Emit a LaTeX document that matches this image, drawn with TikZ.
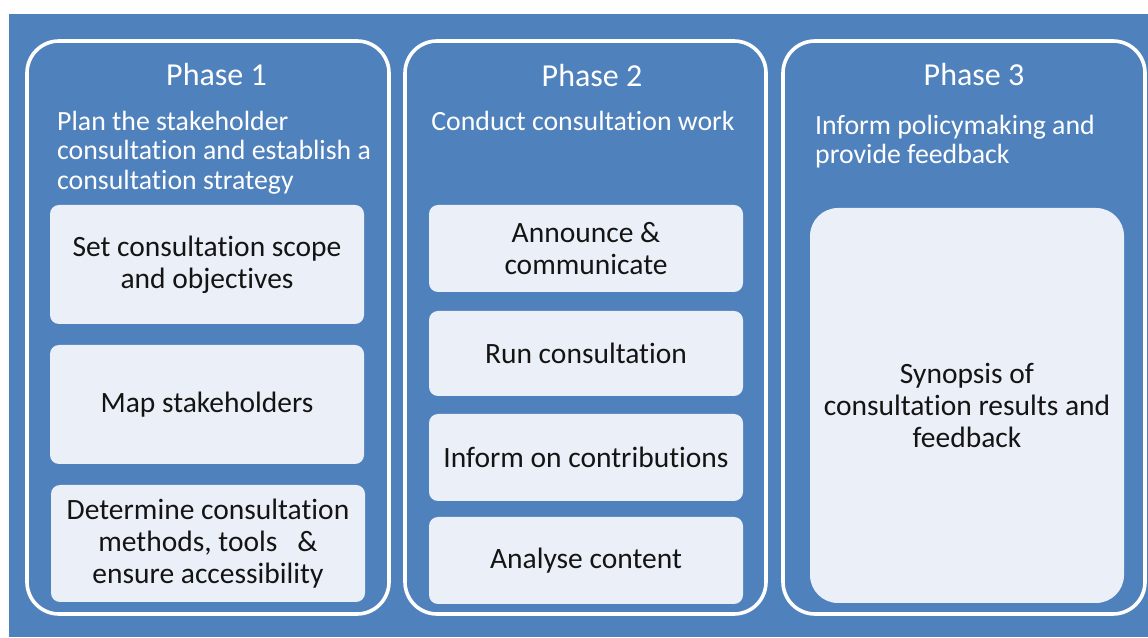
\documentclass[tikz,border=0pt]{standalone}
\usepackage{fontspec}
\setmainfont{Carlito}[Ligatures=CommonOff]
\definecolor{bgblue}{HTML}{4F81BD}
\definecolor{boxfill}{HTML}{EBF0F8}
\definecolor{boxtext}{HTML}{141414}
\tikzset{
  phasebox/.style={draw=white, line width=3.6pt, rounded corners=32pt, minimum width=362pt, inner sep=0pt},
  innerbox/.style={fill=boxfill, rounded corners=9pt, minimum width=314pt, inner sep=0pt, align=center,
    text=boxtext, font=\fontsize{29.5}{32}\selectfont},
  titletext/.style={text=white, font=\fontsize{32}{36}\selectfont, inner sep=0pt, anchor=base},
  subtext/.style={text=white, font=\fontsize{27.8}{29.5}\selectfont, inner sep=0pt, align=left},
}
\begin{document}
\begin{tikzpicture}[x=1pt,y=1pt]
\useasboundingbox (0,0) rectangle (1148,637);
\fill[white] (0,0) rectangle (1148,637);
\fill[bgblue] (9,0) rectangle (1148,623);
% phase boxes
\node[phasebox, minimum height=573pt] (p1) at (208,309.5) {};
\node[phasebox, minimum height=573pt, minimum width=361pt] (p2) at (585.5,309.5) {};
\node[phasebox, minimum height=573pt] (p3) at (964,309.5) {};
% titles
\node[titletext] (t1) at (216.5,551.5) {Phase 1};
\node[titletext] (t2) at (592,550.5) {Phase 2};
\node[titletext] (t3) at (974,551.5) {Phase 3};
% subtitles
\node[subtext, anchor=north west] (s1) at (57,526) {Plan the stakeholder\\consultation and establish a\\consultation strategy};
\node[subtext, anchor=north] (s2) at (583,525.5) {Conduct consultation work};
\node[subtext, anchor=north west] (s3) at (815,522) {Inform policymaking and\\provide feedback};
% phase 1 boxes
\node[innerbox, minimum height=119pt] (b11) at (207,372.5) {Set consultation scope\\and objectives};
\node[innerbox, minimum height=119pt] (b12) at (207,232.5) {Map stakeholders};
\node[innerbox, minimum height=117pt] (b13) at (208,93.5) {Determine consultation\\methods, tools\ \ \ \&\\ensure accessibility};
% phase 2 boxes
\node[innerbox, minimum height=87pt] (b21) at (586,388.5) {Announce \&\\communicate};
\node[innerbox, minimum height=85pt] (b22) at (586,283.5) {Run consultation};
\node[innerbox, minimum height=87pt] (b23) at (586,179.5) {Inform on contributions};
\node[innerbox, minimum height=87pt] (b24) at (586,76.5) {Analyse content};
% phase 3 box
\node[innerbox, minimum height=395pt, rounded corners=28pt] (b31) at (967,231.5) {Synopsis of\\consultation results and\\feedback};
\end{tikzpicture}
\end{document}
